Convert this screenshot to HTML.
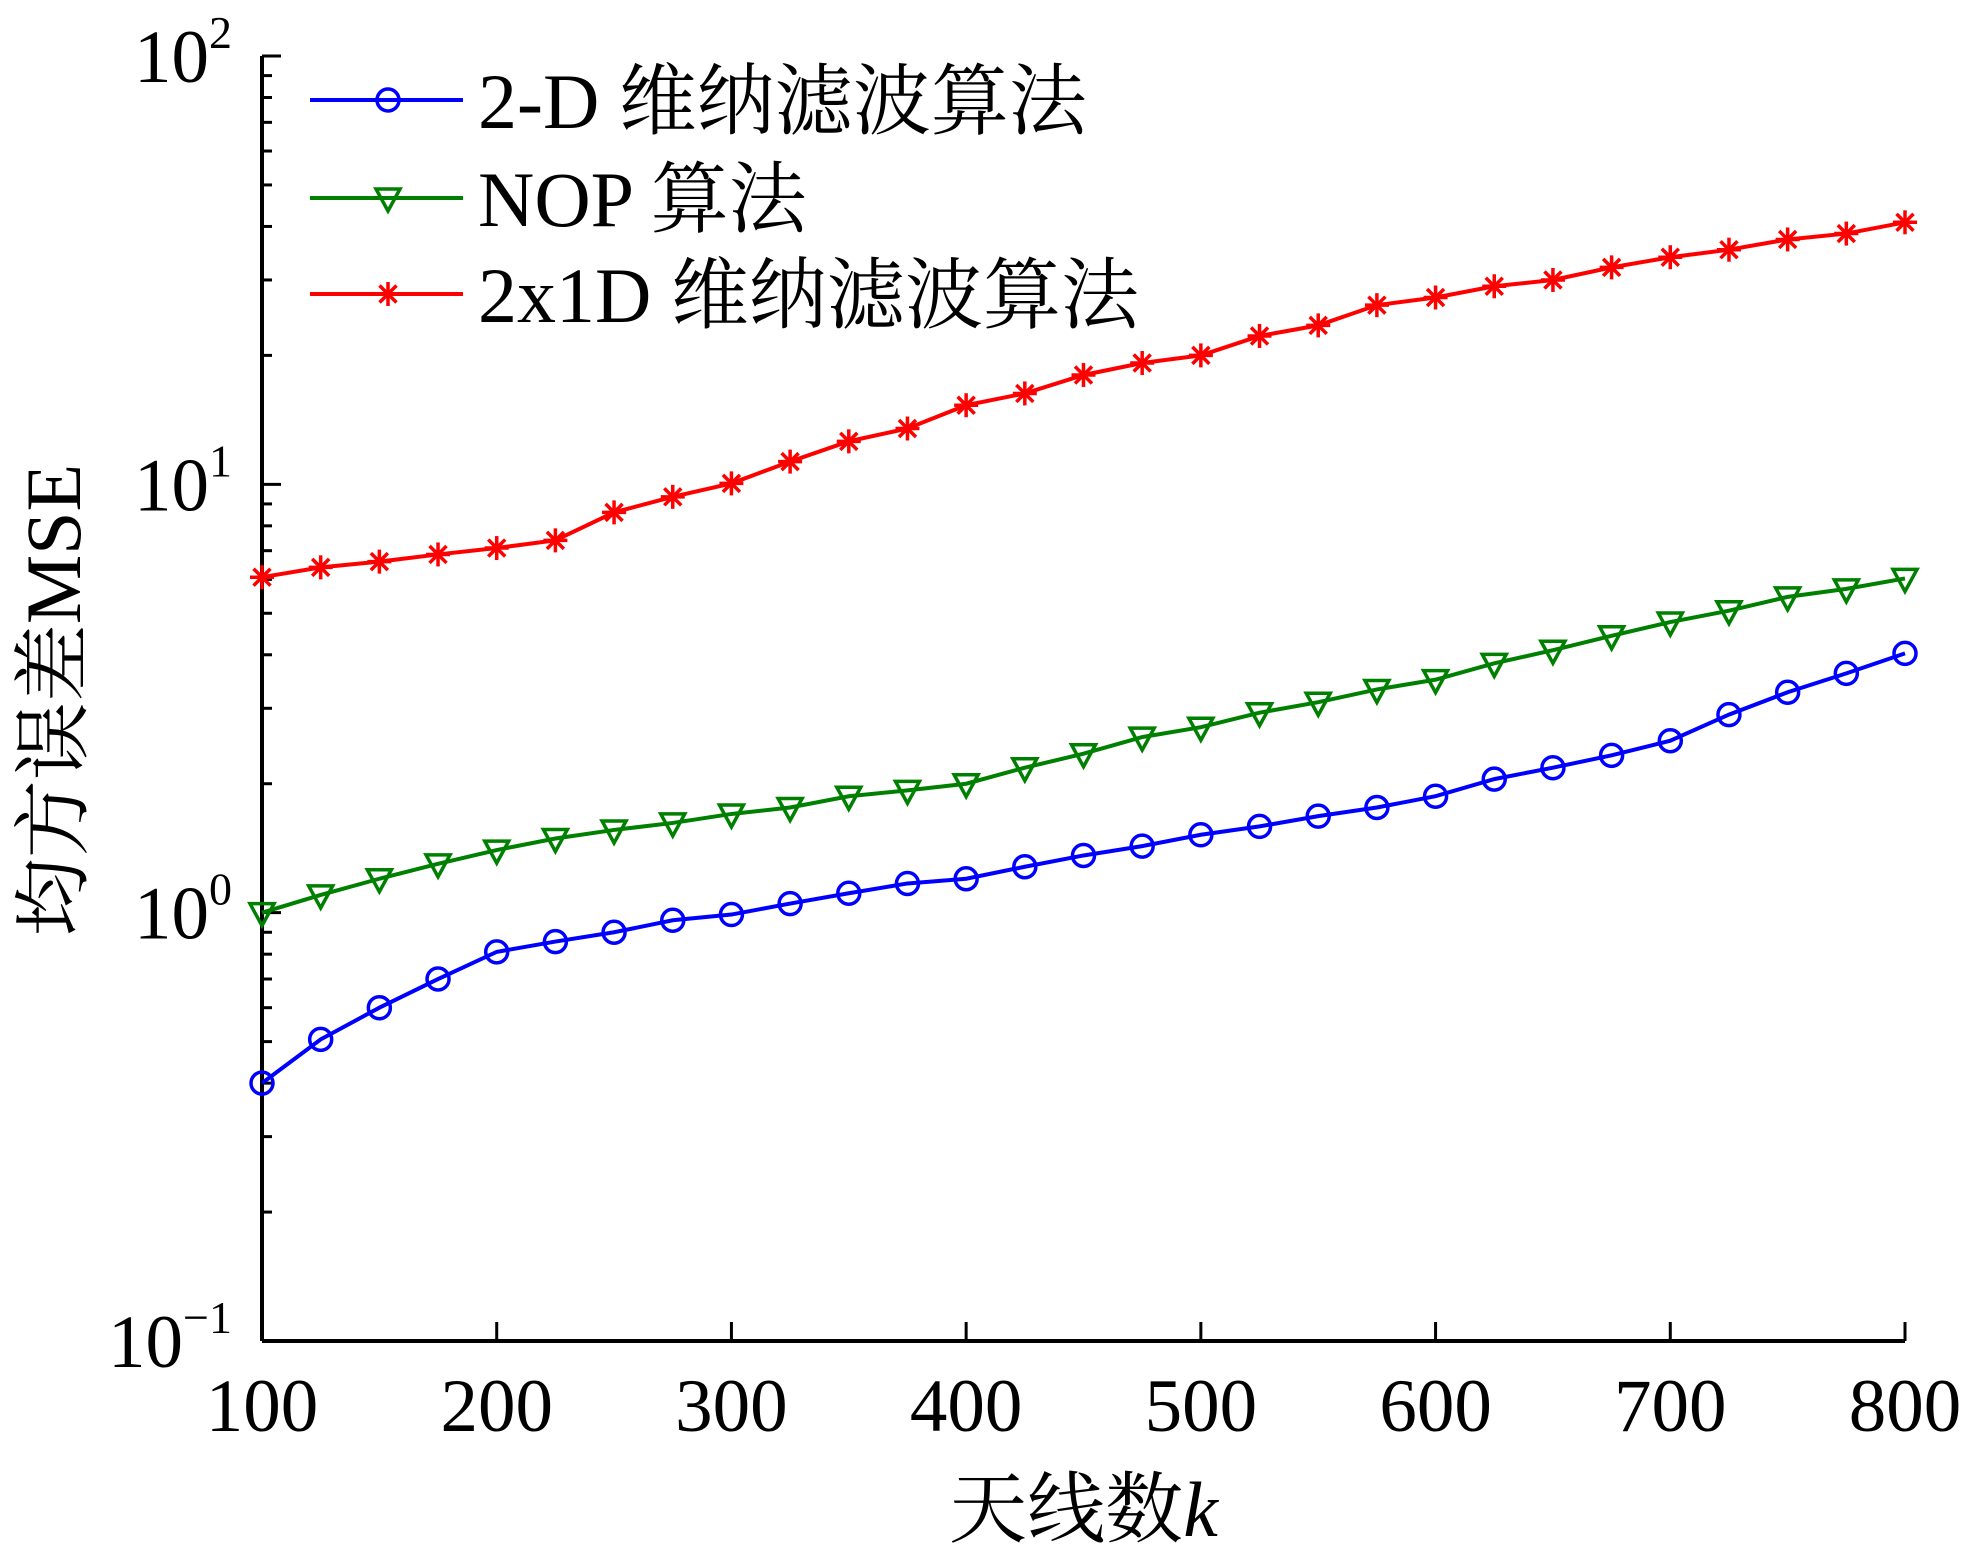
<!DOCTYPE html>
<html><head><meta charset="utf-8"><style>
html,body{margin:0;padding:0;background:#fff;}
svg{display:block;}
text{font-family:"Liberation Serif","Noto Serif CJK SC","Noto Sans CJK SC",serif;fill:#000;}
</style></head><body>
<svg id="chart" width="1963" height="1554" viewBox="0 0 1963 1554" xmlns="http://www.w3.org/2000/svg">
<g id="axes"></g><g id="series"></g><g id="legend"></g>
</svg>
<script>
const xCats=[100,125,150,175,200,225,250,275,300,325,350,375,400,425,450,475,500,525,550,575,600,625,650,675,700,725,750,775,800];
const wienerValues=[0.40,0.506,0.60,0.70,0.81,0.856,0.90,0.96,0.99,1.05,1.11,1.17,1.2,1.28,1.36,1.43,1.52,1.59,1.68,1.76,1.87,2.05,2.18,2.33,2.52,2.9,3.27,3.62,4.03];
const nopValues=[1.0,1.1,1.2,1.3,1.4,1.49,1.56,1.62,1.7,1.76,1.87,1.93,2.0,2.18,2.35,2.57,2.71,2.93,3.1,3.32,3.5,3.82,4.1,4.43,4.77,5.07,5.46,5.7,6.03];
const wiener2x1Values=[6.07,6.4,6.6,6.86,7.1,7.4,8.6,9.35,10.05,11.3,12.6,13.5,15.3,16.3,18.0,19.2,20.0,22.2,23.5,26.2,27.3,29.0,30.0,32.1,33.9,35.3,37.3,38.5,40.9];
const xTicks=[100,200,300,400,500,600,700,800];
const yTickExp=[-1,0,1,2];
const legendLabels=["2-D 维纳滤波算法","NOP 算法","2x1D 维纳滤波算法"];

const NS="http://www.w3.org/2000/svg";
const L=262,R=1905,T=56,B=1341;
const xs=v=>L+(v-100)/700*(R-L);
const ys=v=>B-(Math.log10(v)+1)/3*(B-T);
function mk(tag,attrs,parent){const e=document.createElementNS(NS,tag);for(const k in attrs)e.setAttribute(k,attrs[k]);parent.appendChild(e);return e;}
const axes=document.getElementById('axes');
let e;
e=mk('line',{x1:L,y1:T,x2:L,y2:B,stroke:'#000','stroke-width':4},axes);


e=mk('line',{x1:L,y1:B,x2:R,y2:B,stroke:'#000','stroke-width':4},axes);


xTicks.forEach(t=>{
  const x=xs(t);
  if(t>100){e=mk('line',{x1:x,y1:B,x2:x,y2:B-19,stroke:'#000','stroke-width':3},axes);
  
  }
  e=mk('text',{x:x,y:B+90,'text-anchor':'middle','font-size':75},axes);e.textContent=t;
  
  
});
yTickExp.forEach(p=>{
  const y=ys(Math.pow(10,p));
  e=mk('line',{x1:L,y1:y,x2:L+19,y2:y,stroke:'#000','stroke-width':3},axes);
  
  
  e=mk('text',{x:L-30,y:y+26,'text-anchor':'end','font-size':75},axes);
  
  
  const s1=mk('tspan',{},e);s1.textContent='10';
  const s2=mk('tspan',{dy:-34,'font-size':46},e);s2.textContent=p<0?'\u22121':String(p);
  if(p<2){for(let m=2;m<=9;m++){const yy=ys(m*Math.pow(10,p));
    e=mk('line',{x1:L,y1:yy,x2:L+10,y2:yy,stroke:'#000','stroke-width':3},axes);
    
    }}
});
e=mk('text',{x:(L+R)/2,y:1536,'text-anchor':'middle','font-size':78},axes);


e.innerHTML='天线数<tspan font-style="italic">k</tspan>';
e=mk('text',{x:0,y:0,'text-anchor':'middle','font-size':78,transform:'translate(80,700) rotate(-90)'},axes);


e.textContent='均方误差MSE';

const seriesG=document.getElementById('series');
function marker(kind,x,y,color,g){
  if(kind==='circle'){return mk('circle',{cx:x,cy:y,r:11,fill:'none',stroke:color,'stroke-width':3.5},g);}
  if(kind==='tri'){return mk('polygon',{points:`${x-12},${y-9} ${x+12},${y-9} ${x},${y+13}`,fill:'none',stroke:color,'stroke-width':3.5},g);}
  const gg=mk('g',{stroke:color,'stroke-width':3.5},g);
  for(let a=0;a<180;a+=45){const r=a*Math.PI/180;mk('line',{x1:x-12*Math.sin(r),y1:y-12*Math.cos(r),x2:x+12*Math.sin(r),y2:y+12*Math.cos(r)},gg);}
  return gg;
}
const defs=[[wiener2x1Values,'#ff0000','star','series-2x1d-wiener'],[nopValues,'#008000','tri','series-nop'],[wienerValues,'#0000ff','circle','series-2d-wiener']];
defs.forEach(([vals,color,kind,name])=>{
  const g=mk('g',{},seriesG);
  
  
  const pts=vals.map((v,i)=>xs(xCats[i])+','+ys(v)).join(' ');
  mk('polyline',{points:pts,fill:'none',stroke:color,'stroke-width':4},g);
  vals.forEach((v,i)=>{const m=marker(kind,xs(xCats[i]),ys(v),color,g);
    
    });
});
const leg=document.getElementById('legend');
const legColors=['#0000ff','#008000','#ff0000'],legKinds=['circle','tri','star'],legY=[100,198,294];
legendLabels.forEach((lab,i)=>{
  const g=mk('g',{},leg);
  
  
  mk('line',{x1:310,y1:legY[i],x2:463,y2:legY[i],stroke:legColors[i],'stroke-width':4},g);
  marker(legKinds[i],388,legY[i],legColors[i],g);
  const t=mk('text',{x:478,y:legY[i]+28,'font-size':78},g);t.textContent=lab;
});
</script>
</body></html>
